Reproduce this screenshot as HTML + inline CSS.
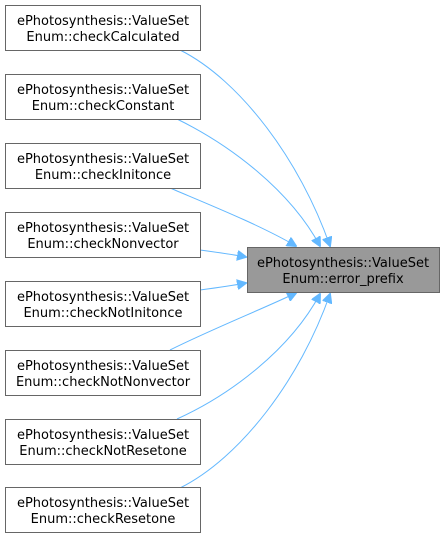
<!DOCTYPE html>
<html><head><style>
body{margin:0;background:#fff;width:446px;height:541px;overflow:hidden}
</style></head><body>
<svg width="446" height="541" xmlns="http://www.w3.org/2000/svg" font-family="DejaVu Sans, Liberation Sans, sans-serif" font-size="13">
<defs><marker id="a" markerWidth="10" markerHeight="10" refX="9" refY="5" orient="auto" markerUnits="userSpaceOnUse"><path d="M0,0 L10,5 L0,10 z" fill="#63b8ff" stroke="#63b8ff"/></marker></defs>
<g fill="none" stroke="#63b8ff" stroke-width="1" marker-end="url(#a)">
<path d="M180,50 C240,80 300,160 330,246"/>
<path d="M177,119 C230,145 290,190 320,246"/>
<path d="M170,188 C210,205 260,225 296,246"/>
<path d="M200,250 C215,252 230,254 246,257"/>
<path d="M200,290 C215,288 230,286 246,283"/>
<path d="M170,350 C210,330 260,310 296,293"/>
<path d="M177,419 C230,395 290,350 320,294"/>
<path d="M180,488 C240,458 300,380 330,294"/>
</g>
<g stroke="#666" fill="#fff">
<rect x="5.5" y="5.5" width="195" height="45"/>
<rect x="5.5" y="74.5" width="195" height="45"/>
<rect x="5.5" y="143.5" width="195" height="45"/>
<rect x="5.5" y="212.5" width="195" height="45"/>
<rect x="5.5" y="281.5" width="195" height="45"/>
<rect x="5.5" y="350.5" width="195" height="45"/>
<rect x="5.5" y="419.5" width="195" height="45"/>
<rect x="5.5" y="487.5" width="195" height="45"/>
<rect x="247.5" y="247.5" width="192" height="45" fill="#999"/>
</g>
<g fill="#000" text-anchor="middle">
<text x="103" y="25">ePhotosynthesis::ValueSet</text><text x="103" y="41">Enum::checkCalculated</text>
<text x="103" y="94">ePhotosynthesis::ValueSet</text><text x="103" y="110">Enum::checkConstant</text>
<text x="103" y="163">ePhotosynthesis::ValueSet</text><text x="103" y="179">Enum::checkInitonce</text>
<text x="103" y="232">ePhotosynthesis::ValueSet</text><text x="103" y="248">Enum::checkNonvector</text>
<text x="103" y="301">ePhotosynthesis::ValueSet</text><text x="103" y="317">Enum::checkNotInitonce</text>
<text x="103" y="370">ePhotosynthesis::ValueSet</text><text x="103" y="386">Enum::checkNotNonvector</text>
<text x="103" y="439">ePhotosynthesis::ValueSet</text><text x="103" y="455">Enum::checkNotResetone</text>
<text x="103" y="507">ePhotosynthesis::ValueSet</text><text x="103" y="523">Enum::checkResetone</text>
<text x="343" y="267">ePhotosynthesis::ValueSet</text><text x="343" y="283">Enum::error_prefix</text>
</g>
</svg>
</body></html>
